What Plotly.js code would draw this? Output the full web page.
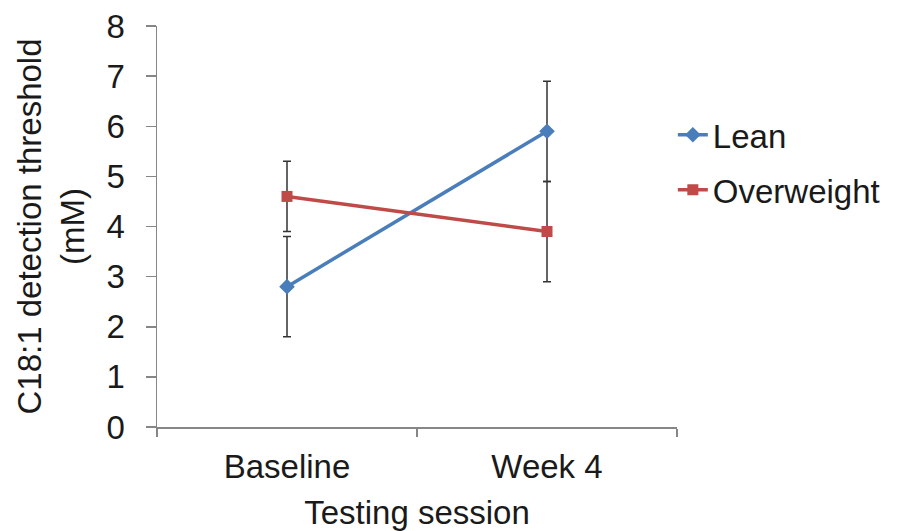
<!DOCTYPE html>
<html>
<head>
<meta charset="utf-8">
<script src="https://cdn.plot.ly/plotly-3.0.1.min.js"></script>
<style>html,body{margin:0;padding:0;background:#fff;}#chart{width:899px;height:531px;}</style>
</head>
<body>
<div id="chart"></div>
<script>
const sessions = ["Baseline", "Week 4"];
const leanValues = [2.8, 5.9];
const leanErrors = [1.0, 1.0];
const overweightValues = [4.6, 3.9];
const overweightErrors = [0.7, 1.0];
const yTicks = [0, 1, 2, 3, 4, 5, 6, 7, 8];

const FONT = "Liberation Sans, Arial, sans-serif";

const traces = [
  {
    x: sessions, y: leanValues, name: "Lean", type: "scatter", mode: "lines+markers",
    legendgroup: "a",
    line: {color: "#4a7ebb", width: 3.5},
    marker: {symbol: "diamond", size: 12, color: "#4a7ebb"},
    error_y: {type: "data", array: leanErrors, visible: true, color: "#333333", thickness: 1.5, width: 4}
  },
  {
    x: sessions, y: overweightValues, name: "Overweight", type: "scatter", mode: "lines+markers",
    legendgroup: "b",
    line: {color: "#be4b48", width: 3.5},
    marker: {symbol: "square", size: 11, color: "#be4b48"},
    error_y: {type: "data", array: overweightErrors, visible: true, color: "#333333", thickness: 1.5, width: 4}
  }
];

const layout = {
  width: 899, height: 531,
  margin: {l: 157, r: 222, t: 26, b: 104},
  paper_bgcolor: "#ffffff", plot_bgcolor: "#ffffff",
  font: {family: FONT, size: 33, color: "#1a1a1a"},
  showlegend: true,
  legend: {
    x: 0.992, xanchor: "left", y: 0.66, yanchor: "middle",
    traceorder: "grouped", tracegroupgap: 9,
    font: {family: FONT, size: 33, color: "#1a1a1a"},
    itemwidth: 30
  },
  xaxis: {
    type: "category", range: [-0.5, 1.5],
    tickson: "boundaries", ticks: "outside", ticklen: 8, tickcolor: "#868686", tickwidth: 1.5,
    showline: true, linecolor: "#868686", linewidth: 1.5,
    showgrid: false, zeroline: false,
    ticklabelstandoff: 10,
    tickfont: {family: FONT, size: 33, color: "#1a1a1a"},
    title: {text: "Testing session", font: {family: FONT, size: 33, color: "#1a1a1a"}, standoff: 20}
  },
  yaxis: {
    range: [0, 8], tickvals: yTicks, ticktext: yTicks.map(String),
    ticks: "outside", ticklen: 10, tickcolor: "#868686", tickwidth: 1.5,
    showline: true, linecolor: "#868686", linewidth: 1.5,
    showgrid: false, zeroline: false,
    ticklabelstandoff: 14,
    tickfont: {family: FONT, size: 33, color: "#1a1a1a"},
    title: {text: "C18:1 detection threshold<br>(mM)", font: {family: FONT, size: 33, color: "#1a1a1a"}, standoff: 12}
  }
};

Plotly.newPlot("chart", traces, layout, {displayModeBar: false, staticPlot: true});
</script>
</body>
</html>
